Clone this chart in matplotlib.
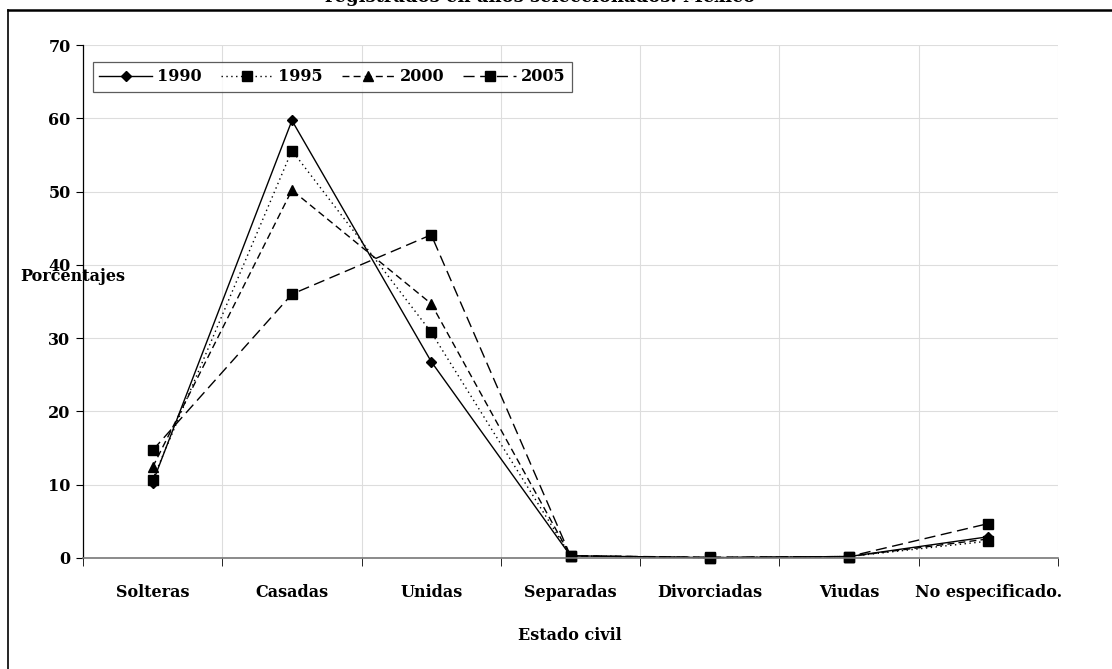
import matplotlib
matplotlib.use("Agg")
import matplotlib.pyplot as plt
from matplotlib.lines import Line2D

categories = ["Solteras", "Casadas", "Unidas", "Separadas", "Divorciadas", "Viudas", "No especificado."]
years = ["1990", "1995", "2000", "2005"]
v1990 = [10.3, 59.7, 26.8, 0.3, 0.05, 0.2, 2.9]
v1995 = [10.7, 55.6, 30.8, 0.3, 0.05, 0.2, 2.3]
v2000 = [12.4, 50.2, 34.7, 0.3, 0.05, 0.2, 2.6]
v2005 = [14.7, 36.0, 44.1, 0.3, 0.1, 0.2, 4.7]
yticks = [0, 10, 20, 30, 40, 50, 60, 70]

plt.rcParams['font.family'] = ['DejaVu Serif']
plt.rcParams['font.weight'] = 'bold'
FS = 11.5

fig = plt.figure(figsize=(11.12, 6.69), dpi=100)
W, H = 1112, 669
ax = fig.add_axes([83 / W, 1 - 558 / H, (1058 - 83) / W, (558 - 45) / H])

x = list(range(len(categories)))
styles = [
    dict(ls='-', marker='D', ms=5),
    dict(ls=(0, (1, 2.5)), marker='s', ms=6.5),
    dict(ls=(0, (5, 3)), marker='^', ms=6.5),
    dict(ls=(0, (8, 4)), marker='s', ms=6.5),
]
series = [v1990, v1995, v2000, v2005]
for yr, vals, st in zip(years, series, styles):
    ax.plot(x, vals, color='black', lw=1.0, linestyle=st['ls'], marker=st['marker'],
            ms=st['ms'], mfc='black', mec='black', label=yr, clip_on=False)

ax.set_xlim(-0.5, len(categories) - 0.5)
ax.set_ylim(0, 70)
ax.set_yticks(yticks)
ax.set_yticklabels([str(t) for t in yticks], fontsize=FS, fontweight='bold')
ax.set_xticks(x)
ax.set_xticklabels(categories, fontsize=FS, fontweight='bold')
ax.tick_params(axis='x', length=0, pad=19)
ax.set_xticks([i + 0.5 for i in range(-1, len(categories))], minor=True)
ax.tick_params(axis='x', which='minor', length=6, direction='out', color='black')
ax.tick_params(axis='y', length=5, direction='out', width=0.8, pad=4)
ax.grid(True, axis='y', color='#dddddd', lw=0.8)
ax.grid(True, axis='x', which='minor', color='#dddddd', lw=0.8)
ax.set_axisbelow(True)
for s in ['top', 'right']:
    ax.spines[s].set_visible(False)
ax.spines['left'].set_linewidth(0.9)
ax.spines['bottom'].set_color('#777777')
ax.spines['bottom'].set_linewidth(1.2)

leg = ax.legend(loc='upper left', bbox_to_anchor=(10 / 975, 1 - 17 / 513), ncol=4,
                frameon=True, fancybox=False, edgecolor='#333333',
                handlelength=3.3, columnspacing=1.2, handletextpad=0.3,
                borderpad=0.4, borderaxespad=0,
                prop={'weight': 'bold', 'size': FS})
leg.get_frame().set_linewidth(0.9)

fig.text(20 / W, 1 - 277 / H, "Porcentajes", fontsize=FS, fontweight='bold',
         ha='left', va='center')
fig.text(570 / W, 1 - 636 / H, "Estado civil", fontsize=FS, fontweight='bold',
         ha='center', va='center')
fig.text(540 / W, 1 - 2 / H, "registrados en años seleccionados. México", fontsize=13,
         fontweight='bold', ha='center', va='baseline')

fig.add_artist(Line2D([8 / W, 1], [1 - 10 / H, 1 - 10 / H], color='black', lw=1.8,
                      transform=fig.transFigure))
fig.add_artist(Line2D([8 / W, 8 / W], [0, 1 - 10 / H], color='black', lw=1.2,
                      transform=fig.transFigure))

fig.savefig("out.png", dpi=100)
